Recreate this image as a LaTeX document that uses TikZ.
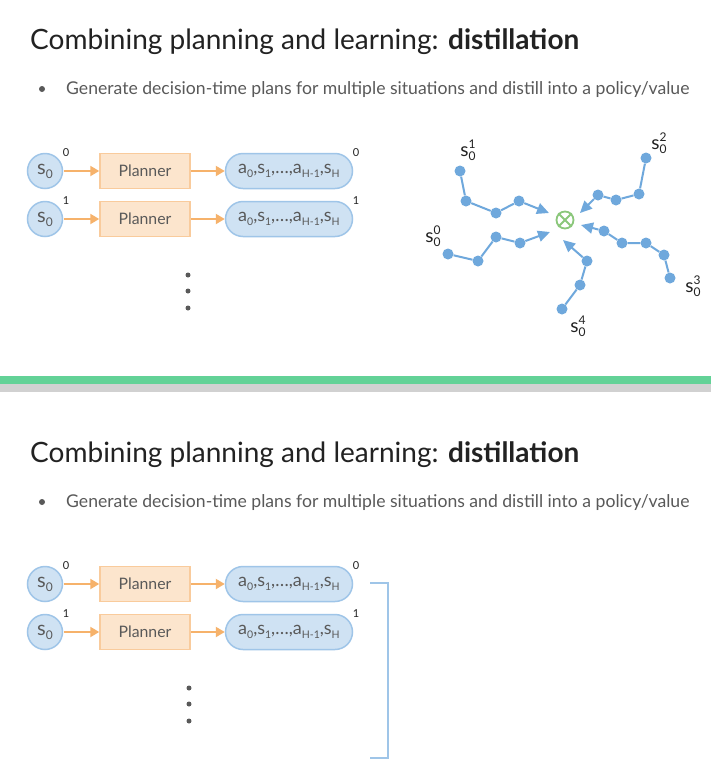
\documentclass[tikz,border=0pt]{standalone}
\usepackage{fontspec}
\setmainfont{Lato}
\usetikzlibrary{arrows.meta,shapes.misc}
\definecolor{bluefill}{HTML}{CFE2F3}
\definecolor{blueline}{HTML}{9FC5E8}
\definecolor{orfill}{HTML}{FCE5CD}
\definecolor{orline}{HTML}{F9CB9C}
\definecolor{orarrow}{HTML}{F6B26B}
\definecolor{dotblue}{HTML}{6FA8DC}
\definecolor{grn}{HTML}{8BC77B}
\definecolor{barcol}{HTML}{63D297}
\definecolor{txt}{HTML}{595959}
\definecolor{ttl}{HTML}{222222}
\newcommand{\lo}[1]{\raisebox{-4pt}{\fontsize{12}{13}\selectfont #1}}
\newcommand{\plo}[1]{\raisebox{-4pt}{\fontsize{10.5}{12}\selectfont #1}}
\newcommand{\sst}[1]{s\rlap{\raisebox{8pt}{\fontsize{12}{13}\selectfont #1}}\raisebox{-4pt}{\fontsize{12}{13}\selectfont 0}}
\tikzset{
  snode/.style={circle,draw=blueline,fill=bluefill,line width=1.5pt,minimum size=35pt,inner sep=0pt,text=txt,font=\fontsize{20}{22}\selectfont},
  planbox/.style={rectangle,draw=orline,fill=orfill,line width=1.5pt,minimum width=90pt,minimum height=35pt,inner sep=0pt,text=txt,font=\fontsize{15.8}{18}\selectfont},
  pill/.style={rounded rectangle,draw=blueline,fill=bluefill,line width=1.5pt,minimum width=127pt,minimum height=35pt,inner sep=0pt,text=txt,font=\fontsize{18}{20}\selectfont},
  supl/.style={inner sep=0pt,text=ttl,font=\fontsize{11}{12}\selectfont},
  orarr/.style={draw=orarrow,line width=2pt,-{Triangle[length=9pt,width=10pt]},shorten <=0.5pt},
  vdot/.style={circle,fill=txt,minimum size=5pt,inner sep=0pt},
  bdot/.style={circle,fill=dotblue,minimum size=11pt,inner sep=0pt},
  bline/.style={draw=dotblue,line width=2pt},
  barr/.style={draw=dotblue,line width=2pt,-{Triangle[length=12pt,width=11pt]}},
  slab/.style={inner sep=0pt,text=ttl,font=\fontsize{19}{21}\selectfont},
  titlef/.style={inner sep=0pt,anchor=base west,text=ttl,font=\fontsize{28}{32}\selectfont},
  bulf/.style={inner sep=0pt,anchor=base west,text=txt,font=\fontsize{17.6}{20}\selectfont},
}
\begin{document}
\begin{tikzpicture}[x=1pt,y=-1pt]
\useasboundingbox (0,0) rectangle (711,780);
\fill[white] (0,0) rectangle (711,780);
% divider
\fill[barcol] (0,376) rectangle (711,384);
\fill[black!18] (0,384) rectangle (711,392);
% titles and bullets
\foreach \o/\n in {0/t,413/b}{
  \node[titlef] (title\n) at (30,49+\o) {Combining planning and learning: \textbf{distillation}};
  \node[circle,fill=txt,minimum size=6pt,inner sep=0pt] (bul\n) at (42,89+\o) {};
  \node[bulf] (bt\n) at (66,94+\o) {Generate decision-time plans for multiple situations and distill into a policy/value};
}
% rows
\foreach \n/\y/\k in {a/171/0,b/219/1,c/584/0,d/632/1}{
  \node[snode] (s\n) at (45,\y) {s\lo{0}};
  \node[supl] (ss\n) at (66,\y-18) {\k};
  \node[planbox] (p\n) at (145,\y) {Planner};
  \node[pill] (r\n) at (289,\y) {a\plo{0},s\plo{1},…,a\plo{H-1},s\plo{H}};
  \node[supl] (rs\n) at (356,\y-18) {\k};
  \draw[orarr] (s\n) -- (p\n);
  \draw[orarr] (p\n) -- (r\n);
}
% vertical dots
\foreach \i/\y in {1/275,2/291,3/308}{
  \node[vdot] (vt\i) at (188,\y) {};
  \node[vdot] (vb\i) at (189,\y+413) {};
}
% bracket
\coordinate (k1) at (370,583);
\coordinate (k2) at (388,583);
\coordinate (k3) at (388,758);
\coordinate (k4) at (370,758);
\draw[blueline,line width=2pt] (k1) -- (k2) -- (k3) -- (k4);
% right diagram: center
\node[circle,draw=grn,line width=1.8pt,minimum size=17pt,inner sep=0pt] (c) at (565,220) {};
\draw[grn,line width=1.8pt] (c.north west) -- (c.south east) (c.north east) -- (c.south west);
% path 1
\node[slab] (l1) at (468,150) {\sst{1}};
\node[bdot] (a1) at (460,171) {};
\node[bdot] (a2) at (466,201) {};
\node[bdot] (a3) at (496,213) {};
\node[bdot] (a4) at (519,201) {};
\coordinate (ae) at (549,213);
\draw[bline] (a1) -- (a2) -- (a3) -- (a4);
\draw[barr] (a4) -- (ae);
% path 2
\node[slab] (l2) at (659,143) {\sst{2}};
\node[bdot] (b1) at (646,158) {};
\node[bdot] (b2) at (639,194) {};
\node[bdot] (b3) at (616,200) {};
\node[bdot] (b4) at (598,195) {};
\coordinate (be) at (580,213);
\draw[bline] (b1) -- (b2) -- (b3) -- (b4);
\draw[barr] (b4) -- (be);
% path 0
\node[slab] (l0) at (433,236) {\sst{0}};
\node[bdot] (d1) at (448,254) {};
\node[bdot] (d2) at (478,261) {};
\node[bdot] (d3) at (496,237) {};
\node[bdot] (d4) at (520,243) {};
\coordinate (de) at (550,232);
\draw[bline] (d1) -- (d2) -- (d3) -- (d4);
\draw[barr] (d4) -- (de);
% path 3
\node[slab] (l3) at (693,286) {\sst{3}};
\node[bdot] (e1) at (670,278) {};
\node[bdot] (e2) at (664,255) {};
\node[bdot] (e3) at (646,243) {};
\node[bdot] (e4) at (622,243) {};
\node[bdot] (e5) at (604,231) {};
\coordinate (ee) at (581,225);
\draw[bline] (e1) -- (e2) -- (e3) -- (e4) -- (e5);
\draw[barr] (e5) -- (ee);
% path 4
\node[slab] (l4) at (578,326) {\sst{4}};
\node[bdot] (f1) at (562,309) {};
\node[bdot] (f2) at (580,285) {};
\node[bdot] (f3) at (587,261) {};
\coordinate (fe) at (563,240);
\draw[bline] (f1) -- (f2) -- (f3);
\draw[barr] (f3) -- (fe);
\end{tikzpicture}
\end{document}
